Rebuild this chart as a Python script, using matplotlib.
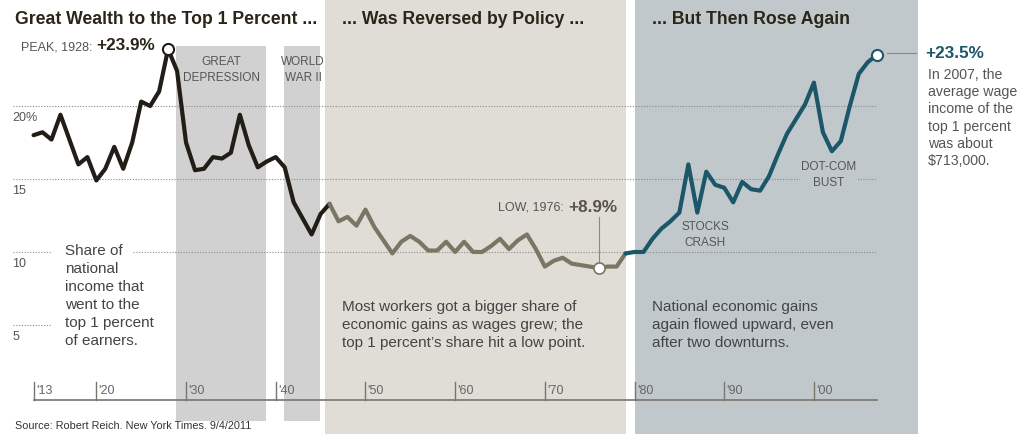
import matplotlib.pyplot as plt

plt.rcParams['font.family'] = ['Liberation Sans', 'DejaVu Sans']

# Share of national income going to the top 1 percent, 1913-2007
years = list(range(1913, 2008))
share = [18.0, 18.2, 17.7, 19.4, 17.7, 16.0, 16.5, 14.9, 15.7, 17.2,
         15.7, 17.5, 20.3, 20.0, 21.0, 23.9, 22.4, 17.5, 15.6, 15.7,
         16.5, 16.4, 16.8, 19.4, 17.3, 15.8, 16.2, 16.5, 15.8, 13.4,
         12.3, 11.2, 12.6, 13.3, 12.1, 12.4, 11.8, 12.9, 11.7, 10.8,
         9.9, 10.7, 11.1, 10.7, 10.1, 10.1, 10.7, 10.0, 10.7, 10.0,
         10.0, 10.4, 10.9, 10.2, 10.8, 11.2, 10.2, 9.0, 9.4, 9.6,
         9.2, 9.1, 9.0, 8.9, 9.0, 9.0, 9.9, 10.0, 10.0, 10.9,
         11.6, 12.1, 12.7, 16.0, 12.7, 15.5, 14.6, 14.4, 13.4, 14.8,
         14.3, 14.2, 15.2, 16.7, 18.1, 19.1, 20.1, 21.6, 18.2, 16.9,
         17.6, 20.0, 22.2, 23.0, 23.5]

# era boundaries (years where the line changes colour)
split_years = [1946, 1979]
era_colors = ['#221d16', '#7b7566', '#1b5669']

# background bands (start, end)
depression = (1928.9, 1938.9)
war = (1940.9, 1944.9)
policy_band = (1945.5, 1979.1)
rise_band = (1980.05, 2011.6)

ytick_labels = ['20%', '15', '10', '5']
ytick_values = [20, 15, 10, 5]
xtick_years = [1913, 1920, 1930, 1940, 1950, 1960, 1970, 1980, 1990, 2000]
xtick_labels = ["'13", "'20", "'30", "'40", "'50", "'60", "'70", "'80", "'90", "'00"]

W, H = 1024, 435
fig = plt.figure(figsize=(W / 100, H / 100), dpi=100)
ax = fig.add_axes([0, 0, 1, 1])
ax.set_xlim(1909.26, 2023.42)
ax.set_ylim(-2.47, 27.33)
ax.axis('off')


def px(x, y):
    # pixel position -> figure fraction
    return x / W, 1 - y / H


# background bands
ax.axvspan(*policy_band, ymin=0, ymax=1, color='#e0ddd6', lw=0, zorder=0)
ax.axvspan(*rise_band, ymin=0, ymax=1, color='#c1c8cc', lw=0, zorder=0)
ax.axvspan(*depression, ymin=0.03, ymax=0.892, color='#d1d1d1', lw=0, zorder=0)
ax.axvspan(*war, ymin=0.03, ymax=0.892, color='#d1d1d1', lw=0, zorder=0)

# dotted gridlines
grid_kw = dict(color='#8a8a8a', lw=0.8, ls=(0, (1, 1.5)), zorder=1)
for lev in [20, 15]:
    ax.plot([1910.7, 2007], [lev, lev], **grid_kw)
ax.plot([1910.7, 1915.1], [10, 10], **grid_kw)
ax.plot([1924.1, 2007], [10, 10], **grid_kw)
ax.plot([1910.7, 1914.9], [5, 5], **grid_kw)

# y labels
for val, lab in zip(ytick_values, ytick_labels):
    ax.text(1910.6, val - 0.75, lab, fontsize=9, color='#555555', va='center', ha='left')

# x axis
ax.plot([xtick_years[0], years[-1]], [-0.14, -0.14], color='#77756c', lw=1.2, zorder=2)
for yr, lab in zip(xtick_years, xtick_labels):
    ax.plot([yr, yr], [-0.14, 1.1], color='#77756c', lw=1.0, zorder=2)
    ax.text(yr + 0.25, 0.55, lab, fontsize=9, color='#666666', va='center', ha='left')

# the line, in three colour eras
i1 = years.index(split_years[0])
i2 = years.index(split_years[1])
segs = [(0, i1 + 1), (i1, i2 + 1), (i2, len(years))]
for (a, b), c in zip(segs, era_colors):
    ax.plot(years[a:b], share[a:b], color=c, lw=3.0, solid_capstyle='round',
            solid_joinstyle='round', zorder=4)

# highlighted points
peak_i = share.index(max(share[:30]))
low_i = share.index(min(share))
ax.plot(years[peak_i], share[peak_i], 'o', ms=8, mfc='white', mec=era_colors[0], mew=1.5, zorder=5)
ax.plot(years[low_i], share[low_i], 'o', ms=8, mfc='white', mec=era_colors[1], mew=1.2, zorder=5)
ax.plot(years[-1], share[-1], 'o', ms=8, mfc='white', mec=era_colors[2], mew=1.5, zorder=5)

# titles
title_kw = dict(fontsize=12.7, fontweight='bold', color='#2b2518', va='center', ha='left')
fig.text(*px(15, 20), 'Great Wealth to the Top 1 Percent ...', **title_kw)
fig.text(*px(342, 20), '... Was Reversed by Policy ...', **title_kw)
fig.text(*px(652, 20), '... But Then Rose Again', **title_kw)

# peak annotation
fig.text(*px(92, 47), 'PEAK, 1928:', fontsize=9, color='#555555', va='center', ha='right')
fig.text(*px(96, 46), '+23.9%', fontsize=12.3, fontweight='bold', color='#2b2518', va='center', ha='left')

# low annotation
ax.plot([years[low_i], years[low_i]], [share[low_i] + 0.3, 12.4], color='#888888', lw=0.8, zorder=3)
fig.text(*px(564, 208), 'LOW, 1976:', fontsize=9, color='#555555', va='center', ha='right')
fig.text(*px(568, 207), '+8.9%', fontsize=12.3, fontweight='bold', color='#5a5448', va='center', ha='left')

# end annotation
ax.plot([years[-1] + 1.1, years[-1] + 4.4], [share[-1] + 0.1, share[-1] + 0.1], color='#888888', lw=0.8)
fig.text(*px(925, 53), '+23.5%', fontsize=12.3, fontweight='bold', color='#1b5669', va='center', ha='left')
fig.text(*px(928, 118), 'In 2007, the\naverage wage\nincome of the\ntop 1 percent\nwas about\n$713,000.',
         fontsize=10.2, color='#555555', va='center', ha='left', linespacing=1.29)

# period labels
small_kw = dict(fontsize=8.5, color='#555555', ha='center', va='center', linespacing=1.45)
fig.text(*px(221, 70), 'GREAT\nDEPRESSION', **small_kw)
fig.text(*px(303, 70), 'WORLD\nWAR II', **small_kw)
fig.text(*px(705, 235), 'STOCKS\nCRASH', **small_kw)
fig.text(*px(829, 175), 'DOT-COM\nBUST', **small_kw,
         bbox=dict(boxstyle='square,pad=0.15', fc='#c1c8cc', ec='none'))

# body text
body_kw = dict(fontsize=11, color='#444444', ha='left', va='center', linespacing=1.38)
fig.text(*px(65, 296), 'Share of\nnational\nincome that\nwent to the\ntop 1 percent\nof earners.', **body_kw)
fig.text(*px(342, 325), "Most workers got a bigger share of\neconomic gains as wages grew; the\ntop 1 percent\u2019s share hit a low point.", **body_kw)
fig.text(*px(652, 325), 'National economic gains\nagain flowed upward, even\nafter two downturns.', **body_kw)

# source
fig.text(*px(15, 426), 'Source: Robert Reich. New York Times. 9/4/2011', fontsize=7.8, color='#333333',
         va='center', ha='left')

fig.savefig('out.png', dpi=100)
